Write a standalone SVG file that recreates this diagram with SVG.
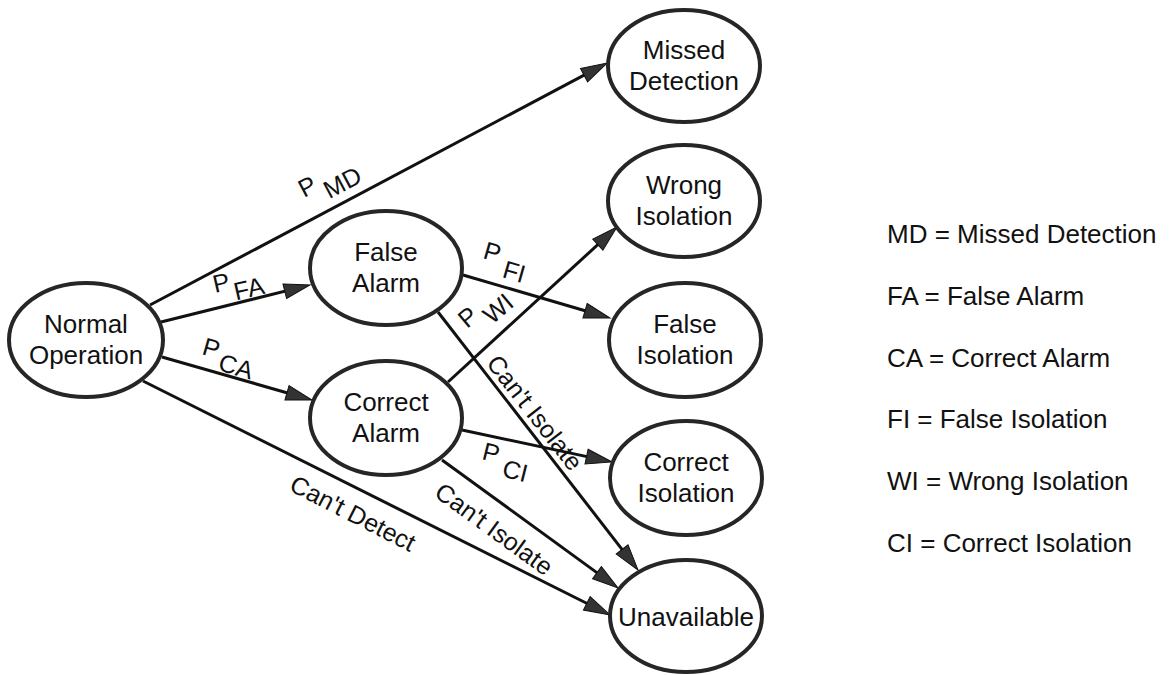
<svg xmlns="http://www.w3.org/2000/svg" width="1170" height="675" viewBox="0 0 1170 675">
  <style>
    .node ellipse { fill: #fff; stroke: #262626; stroke-width: 4; }
    .node text { font-family: "Liberation Sans", Arial, sans-serif; font-size: 26px; fill: #111; text-anchor: middle; }
    .edge { fill: none; stroke: #111; stroke-width: 3; marker-end: url(#arrow); }
    .lbl { font-family: "Liberation Sans", Arial, sans-serif; font-size: 25px; fill: #111; }
    .mid { text-anchor: middle; }
    .legend text { font-family: "Liberation Sans", Arial, sans-serif; font-size: 26px; fill: #111; }
  </style>
  <defs>
    <marker id="arrow" markerUnits="userSpaceOnUse" markerWidth="30" markerHeight="20" refX="16" refY="7.5" orient="auto" overflow="visible">
      <path d="M0,0 L26,7.5 L0,15 Z" fill="#333" stroke="#111" stroke-width="1"/>
    </marker>
  </defs>
  <rect width="1170" height="675" fill="#fff"/>

  <!-- transitions between states -->
  <g id="connectors">
    <line class="edge" x1="150" y1="305" x2="598.2" y2="67.7"/>
    <line class="edge" x1="161" y1="322" x2="300.3" y2="287.4"/>
    <line class="edge" x1="162" y1="357" x2="302.4" y2="397.2"/>
    <line class="edge" x1="143" y1="381" x2="601.1" y2="610.5"/>
    <line class="edge" x1="463" y1="275" x2="600.4" y2="315.2"/>
    <line class="edge" x1="438" y1="312" x2="631.9" y2="562.1"/>
    <line class="edge" x1="448" y1="382" x2="609.6" y2="233.8"/>
    <line class="edge" x1="462" y1="430" x2="602.2" y2="459.9"/>
    <line class="edge" x1="442" y1="460" x2="609.9" y2="582.1"/>

    <text class="lbl" transform="translate(304,198) rotate(-28)">P<tspan dx="5" dy="13">MD</tspan></text>
    <text class="lbl" transform="translate(215,293) rotate(-13)">P<tspan dx="2" dy="12">FA</tspan></text>
    <text class="lbl" transform="translate(201,354) rotate(16)">P<tspan dx="3" dy="11">CA</tspan></text>
    <text class="lbl" transform="translate(482,258) rotate(16)">P<tspan dx="7" dy="13">FI</tspan></text>
    <text class="lbl" transform="translate(467,329) rotate(-40)">P<tspan dx="5" dy="13">WI</tspan></text>
    <text class="lbl" transform="translate(481,459) rotate(14)">P<tspan dx="7" dy="12">CI</tspan></text>
    <text class="lbl mid" transform="translate(349,521) rotate(27)">Can't Detect</text>
    <text class="lbl mid" transform="translate(528,418) rotate(52)">Can't Isolate</text>
    <text class="lbl mid" transform="translate(489,536) rotate(36)">Can't Isolate</text>
  </g>

  <!-- states -->
  <g id="normal-operation" class="node">
    <ellipse cx="86" cy="340" rx="77" ry="57"/>
    <text x="86" y="333">Normal</text>
    <text x="86" y="364">Operation</text>
  </g>
  <g id="false-alarm" class="node">
    <ellipse cx="386" cy="268" rx="76" ry="57"/>
    <text x="386" y="261">False</text>
    <text x="386" y="292">Alarm</text>
  </g>
  <g id="correct-alarm" class="node">
    <ellipse cx="386" cy="418" rx="76" ry="57"/>
    <text x="386" y="411">Correct</text>
    <text x="386" y="442">Alarm</text>
  </g>
  <g id="missed-detection" class="node">
    <ellipse cx="684" cy="66" rx="76" ry="56"/>
    <text x="684" y="59">Missed</text>
    <text x="684" y="90">Detection</text>
  </g>
  <g id="wrong-isolation" class="node">
    <ellipse cx="684" cy="201" rx="76" ry="56"/>
    <text x="684" y="194">Wrong</text>
    <text x="684" y="225">Isolation</text>
  </g>
  <g id="false-isolation" class="node">
    <ellipse cx="685" cy="340" rx="76" ry="57"/>
    <text x="685" y="333">False</text>
    <text x="685" y="364">Isolation</text>
  </g>
  <g id="correct-isolation" class="node">
    <ellipse cx="686" cy="478" rx="76" ry="57"/>
    <text x="686" y="471">Correct</text>
    <text x="686" y="502">Isolation</text>
  </g>
  <g id="unavailable" class="node">
    <ellipse cx="686" cy="616" rx="76" ry="56"/>
    <text x="686" y="626">Unavailable</text>
  </g>

  <!-- abbreviation key -->
  <g id="legend" class="legend">
    <text x="887" y="243">MD = Missed Detection</text>
    <text x="887" y="305">FA = False Alarm</text>
    <text x="887" y="367">CA = Correct Alarm</text>
    <text x="887" y="428">FI = False Isolation</text>
    <text x="887" y="490">WI = Wrong Isolation</text>
    <text x="887" y="552">CI = Correct Isolation</text>
  </g>
</svg>
